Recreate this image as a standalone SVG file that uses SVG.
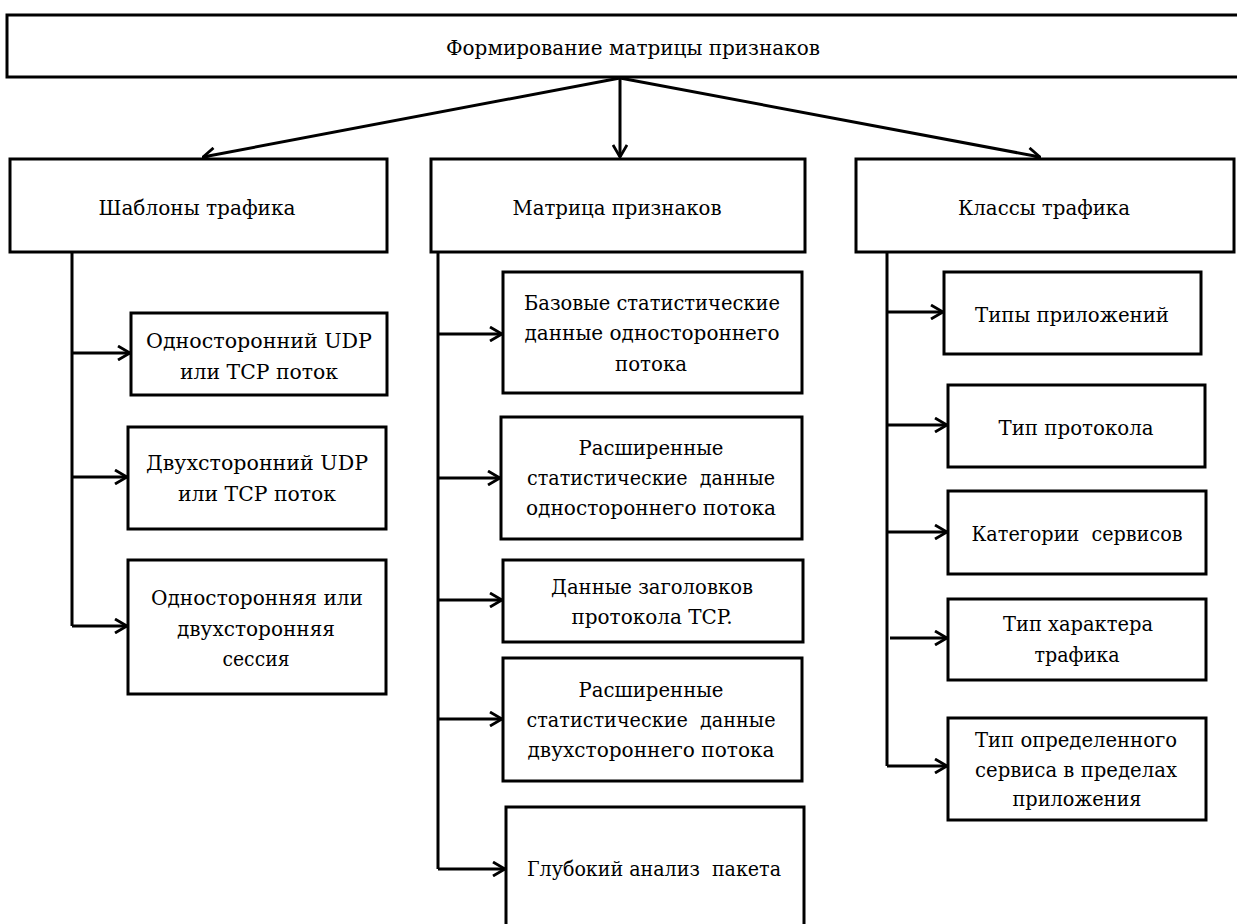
<svg xmlns="http://www.w3.org/2000/svg" width="1237" height="924" viewBox="0 0 1237 924">
  <style>
    .box { fill: #fff; stroke: #000; stroke-width: 3; }
    .lbl { font-family: "DejaVu Serif", "Liberation Serif", serif; font-size: 21px; fill: #000; text-anchor: middle; }
    .title { font-family: "DejaVu Serif", "Liberation Serif", serif; font-size: 21px; fill: #000; text-anchor: middle; }
    .conn { fill: none; stroke: #000; stroke-width: 3; }
  </style>
  <defs>
    <marker id="arr" viewBox="0 0 14 16" refX="13" refY="8" markerWidth="14" markerHeight="16" markerUnits="userSpaceOnUse" orient="auto">
      <path d="M1,1 L13,8 L1,15" fill="none" stroke="#000" stroke-width="2.8"/>
    </marker>
  </defs>
  <rect width="1237" height="924" fill="#fff"/>

  <!-- connectors -->
  <g id="connectors">
    <line class="conn" x1="620" y1="78" x2="203" y2="157" marker-end="url(#arr)"/>
    <line class="conn" x1="620" y1="78" x2="620" y2="157" stroke-width="2" marker-end="url(#arr)"/>
    <line class="conn" x1="620" y1="78" x2="1040" y2="157" marker-end="url(#arr)"/>

    <polyline class="conn" points="72,252 72,626"/>
    <line class="conn" x1="72" y1="353" x2="130" y2="353" marker-end="url(#arr)"/>
    <line class="conn" x1="72" y1="477" x2="127" y2="477" marker-end="url(#arr)"/>
    <line class="conn" x1="72" y1="626" x2="127" y2="626" marker-end="url(#arr)"/>

    <polyline class="conn" points="438,252 438,869"/>
    <line class="conn" x1="438" y1="334" x2="502" y2="334" marker-end="url(#arr)"/>
    <line class="conn" x1="438" y1="478" x2="500" y2="478" marker-end="url(#arr)"/>
    <line class="conn" x1="438" y1="600" x2="502" y2="600" marker-end="url(#arr)"/>
    <line class="conn" x1="438" y1="719" x2="502" y2="719" marker-end="url(#arr)"/>
    <line class="conn" x1="438" y1="869" x2="505" y2="869" marker-end="url(#arr)"/>

    <polyline class="conn" points="887,252 887,766"/>
    <line class="conn" x1="887" y1="312" x2="943" y2="312" marker-end="url(#arr)"/>
    <line class="conn" x1="887" y1="425" x2="947" y2="425" marker-end="url(#arr)"/>
    <line class="conn" x1="887" y1="532" x2="947" y2="532" marker-end="url(#arr)"/>
    <line class="conn" x1="890" y1="638" x2="947" y2="638" marker-end="url(#arr)"/>
    <line class="conn" x1="887" y1="766" x2="947" y2="766" marker-end="url(#arr)"/>
  </g>

  <g id="root">
    <rect class="box" x="7" y="15" width="1240" height="62"/>
    <text class="title" x="633" y="55" textLength="374" lengthAdjust="spacingAndGlyphs">Формирование матрицы признаков</text>
  </g>

  <g id="templates">
    <rect class="box" x="10" y="159" width="377" height="93"/>
    <text class="lbl" x="197" y="215" textLength="197" lengthAdjust="spacingAndGlyphs">Шаблоны трафика</text>
  </g>
  <g id="matrix">
    <rect class="box" x="431" y="159" width="374" height="93"/>
    <text class="lbl" x="617" y="215" textLength="209" lengthAdjust="spacingAndGlyphs">Матрица признаков</text>
  </g>
  <g id="classes">
    <rect class="box" x="856" y="159" width="378" height="93"/>
    <text class="lbl" x="1044" y="215" textLength="172" lengthAdjust="spacingAndGlyphs">Классы трафика</text>
  </g>

  <g id="t-uni-flow">
    <rect class="box" x="131" y="313" width="256" height="82"/>
    <text class="lbl" x="259" y="348" textLength="226" lengthAdjust="spacingAndGlyphs">Односторонний UDP</text>
    <text class="lbl" x="259" y="379" textLength="158" lengthAdjust="spacingAndGlyphs">или TCP поток</text>
  </g>
  <g id="t-bi-flow">
    <rect class="box" x="128" y="427" width="258" height="102"/>
    <text class="lbl" x="257" y="470" textLength="222" lengthAdjust="spacingAndGlyphs">Двухсторонний UDP</text>
    <text class="lbl" x="257" y="501" textLength="158" lengthAdjust="spacingAndGlyphs">или TCP поток</text>
  </g>
  <g id="t-session">
    <rect class="box" x="128" y="560" width="258" height="134"/>
    <text class="lbl" x="257" y="605" textLength="212" lengthAdjust="spacingAndGlyphs">Односторонняя или</text>
    <text class="lbl" x="256" y="636" textLength="158" lengthAdjust="spacingAndGlyphs">двухсторонняя</text>
    <text class="lbl" x="256" y="666" textLength="67" lengthAdjust="spacingAndGlyphs">сессия</text>
  </g>

  <g id="m-basic">
    <rect class="box" x="503" y="272" width="299" height="121"/>
    <text class="lbl" x="652" y="310" textLength="256" lengthAdjust="spacingAndGlyphs">Базовые статистические</text>
    <text class="lbl" x="652" y="340" textLength="255" lengthAdjust="spacingAndGlyphs">данные одностороннего</text>
    <text class="lbl" x="651" y="371" textLength="72" lengthAdjust="spacingAndGlyphs">потока</text>
  </g>
  <g id="m-ext-uni">
    <rect class="box" x="501" y="417" width="301" height="122"/>
    <text class="lbl" x="651" y="455" textLength="145" lengthAdjust="spacingAndGlyphs">Расширенные</text>
    <text class="lbl" x="651" y="485" xml:space="preserve" textLength="248" lengthAdjust="spacingAndGlyphs">статистические  данные</text>
    <text class="lbl" x="651" y="515" textLength="250" lengthAdjust="spacingAndGlyphs">одностороннего потока</text>
  </g>
  <g id="m-tcp">
    <rect class="box" x="503" y="560" width="300" height="82"/>
    <text class="lbl" x="652" y="594" textLength="202" lengthAdjust="spacingAndGlyphs">Данные заголовков</text>
    <text class="lbl" x="652" y="624" textLength="161" lengthAdjust="spacingAndGlyphs">протокола TCP.</text>
  </g>
  <g id="m-ext-bi">
    <rect class="box" x="503" y="658" width="299" height="123"/>
    <text class="lbl" x="651" y="697" textLength="145" lengthAdjust="spacingAndGlyphs">Расширенные</text>
    <text class="lbl" x="651" y="727" xml:space="preserve" textLength="249" lengthAdjust="spacingAndGlyphs">статистические  данные</text>
    <text class="lbl" x="651" y="757" textLength="247" lengthAdjust="spacingAndGlyphs">двухстороннего потока</text>
  </g>
  <g id="m-dpi">
    <rect class="box" x="506" y="807" width="298" height="130"/>
    <text class="lbl" x="654" y="876" xml:space="preserve" textLength="254" lengthAdjust="spacingAndGlyphs">Глубокий анализ  пакета</text>
  </g>

  <g id="c-apps">
    <rect class="box" x="944" y="272" width="257" height="82"/>
    <text class="lbl" x="1072" y="322" textLength="194" lengthAdjust="spacingAndGlyphs">Типы приложений</text>
  </g>
  <g id="c-proto">
    <rect class="box" x="948" y="385" width="257" height="82"/>
    <text class="lbl" x="1076" y="435" textLength="155" lengthAdjust="spacingAndGlyphs">Тип протокола</text>
  </g>
  <g id="c-cat">
    <rect class="box" x="948" y="491" width="258" height="83"/>
    <text class="lbl" x="1077" y="541" xml:space="preserve" textLength="211" lengthAdjust="spacingAndGlyphs">Категории  сервисов</text>
  </g>
  <g id="c-nature">
    <rect class="box" x="948" y="599" width="258" height="81"/>
    <text class="lbl" x="1078" y="631" textLength="150" lengthAdjust="spacingAndGlyphs">Тип характера</text>
    <text class="lbl" x="1077" y="662" textLength="85" lengthAdjust="spacingAndGlyphs">трафика</text>
  </g>
  <g id="c-service">
    <rect class="box" x="948" y="718" width="258" height="102"/>
    <text class="lbl" x="1076" y="747" textLength="202" lengthAdjust="spacingAndGlyphs">Тип определенного</text>
    <text class="lbl" x="1076" y="777" textLength="202" lengthAdjust="spacingAndGlyphs">сервиса в пределах</text>
    <text class="lbl" x="1077" y="806" textLength="129" lengthAdjust="spacingAndGlyphs">приложения</text>
  </g>
</svg>
